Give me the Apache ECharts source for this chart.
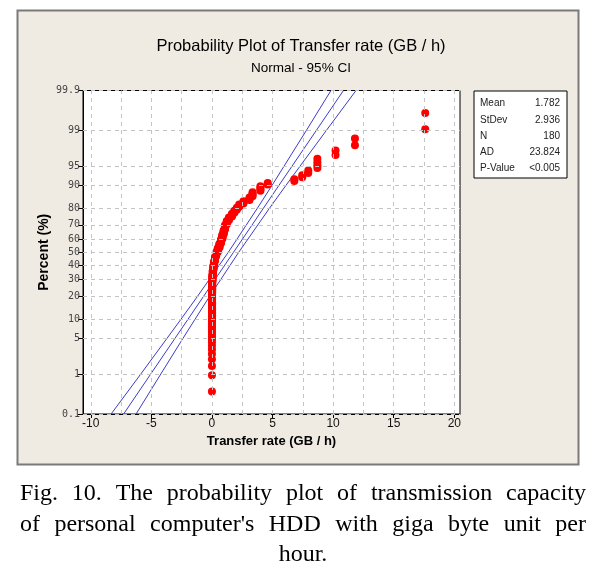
<!DOCTYPE html>
<html><head><meta charset="utf-8">
<script src="https://cdn.jsdelivr.net/npm/echarts@6/dist/echarts.min.js"></script>
<style>html,body{margin:0;padding:0;background:#fff}#c{width:606px;height:571px}</style>
</head><body><div id="c"></div>
<script>
// ---- data ----
const transferRates = [
  0.00,0.00,0.00,0.00,0.00,0.00,0.00,0.00,0.00,0.00,0.00,0.00,0.00,0.00,0.00,0.00,0.00,0.00,0.00,0.00,
  0.01,0.01,0.01,0.01,0.01,0.01,0.01,0.01,0.01,0.01,0.01,0.01,0.01,0.01,0.01,0.01,0.01,0.01,0.01,0.01,
  0.02,0.02,0.02,0.02,0.02,0.02,0.02,0.02,0.02,0.02,0.02,0.02,
  0.04,0.04,0.04,0.04,0.04,0.04,0.04,0.04,
  0.07,0.07,0.07,0.07,0.07,0.07,
  0.12,0.12,0.12,0.12,0.12,0.12,
  0.18,0.18,0.18,0.18,0.18,0.18,
  0.25,0.25,0.25,0.25,0.25,0.25,
  0.34,0.34,0.34,0.34,0.34,0.34,
  0.48,0.48,0.48,0.48,0.48,0.48,
  0.62,0.62,0.62,0.62,0.62,0.62,
  0.75,0.75,0.75,0.75,0.75,0.75,
  0.86,0.86,0.86,0.86,0.86,0.86,
  0.97,0.97,0.97,0.97,0.97,0.97,
  1.08,1.08,1.08,1.08,1.08,1.08,
  1.22,1.22,1.22,1.22,1.22,
  1.40,1.40,1.40,1.40,
  1.65,1.65,1.65,1.65,
  1.85,1.85,1.85,
  2.05,2.05,2.05,
  2.25,2.25,2.25,
  2.60,2.60,2.60,
  3.10,3.10,3.10,
  3.35,3.35,3.35,3.35,
  4.00,4.00,4.00,4.00,
  4.60,4.60,
  6.80,6.80,
  7.45,7.45,
  7.95,7.95,
  8.70,8.70,8.70,8.70,
  10.20,10.20,
  11.80,11.80,
  17.60,17.60
];
const yTickPercents = [0.1,1,5,10,20,30,40,50,60,70,80,90,95,99,99.9];
const xTickValues = [-10,-5,0,5,10,15,20];
const xGridValues = [-10,-7.5,-5,-2.5,0,2.5,5,7.5,10,12.5,15,17.5,20];
const ciPercents = [0.1,1,5,10,20,50,80,90,95,99,99.9];
const fitLine = [-7.29,-5.05,-3.05,-1.98,-0.69,1.78,4.25,5.54,6.61,8.61,10.85];
const ciLower = [-8.32,-5.87,-3.71,-2.56,-1.19,1.35,3.75,4.97,5.95,7.79,9.82];
const ciUpper = [-6.26,-4.22,-2.39,-1.40,-0.19,2.21,4.75,6.12,7.27,9.44,11.89];
const statLabels = ['Mean','StDev','N','AD','P-Value'];
const statValues = ['1.782','2.936','180','23.824','<0.005'];
const titleText = 'Probability Plot of Transfer rate (GB / h)';
const subtitleText = 'Normal - 95% CI';
const xName = 'Transfer rate (GB / h)';
const yName = 'Percent (%)';
const captionLines = [
  'Fig. 10. The probability plot of transmission capacity',
  "of personal computer's HDD with giga byte unit per",
  'hour.'
];

// inverse standard normal (Acklam)
function invNorm(p){
  const a=[-3.969683028665376e+01,2.209460984245205e+02,-2.759285104469687e+02,1.383577518672690e+02,-3.066479806614716e+01,2.506628277459239e+00];
  const b=[-5.447609879822406e+01,1.615858368580409e+02,-1.556989798598866e+02,6.680131188771972e+01,-1.328068155288572e+01];
  const c=[-7.784894002430293e-03,-3.223964580411365e-01,-2.400758277161838e+00,-2.549732539343734e+00,4.374664141464968e+00,2.938163982698783e+00];
  const d=[7.784695709041462e-03,3.224671290700398e-01,2.445134137142996e+00,3.754408661907416e+00];
  const pl=0.02425;let q,r;
  if(p<pl){q=Math.sqrt(-2*Math.log(p));return (((((c[0]*q+c[1])*q+c[2])*q+c[3])*q+c[4])*q+c[5])/((((d[0]*q+d[1])*q+d[2])*q+d[3])*q+1);}
  if(p>1-pl){q=Math.sqrt(-2*Math.log(1-p));return -(((((c[0]*q+c[1])*q+c[2])*q+c[3])*q+c[4])*q+c[5])/((((d[0]*q+d[1])*q+d[2])*q+d[3])*q+1);}
  q=p-0.5;r=q*q;return (((((a[0]*r+a[1])*r+a[2])*r+a[3])*r+a[4])*r+a[5])*q/(((((b[0]*r+b[1])*r+b[2])*r+b[3])*r+b[4])*r+1);
}
const zOf = pct => invNorm(pct/100);
const n = transferRates.length;
const points = transferRates.map((v,i)=>[v, invNorm((i+1-0.3)/(n+0.4))]);
const yTickZ = yTickPercents.map(zOf);
const lineData = arr => arr.map((v,k)=>[v, zOf(ciPercents[k])]);

const chart = echarts.init(document.getElementById('c'), null, {renderer:'canvas'});

// justified caption
const capFont = '24px "Liberation Serif", "Times New Roman", serif';
const ctx = document.createElement('canvas').getContext('2d');
ctx.font = capFont;
const capX0 = 20, capX1 = 586, capY = [494, 525, 555];
const captionEls = [];
captionLines.forEach((line, li)=>{
  if (li === captionLines.length-1){
    captionEls.push({type:'text', x:303, y:capY[li], style:{text:line, font:capFont, fill:'#000', align:'center', verticalAlign:'middle'}});
    return;
  }
  const words = line.split(' ');
  const widths = words.map(w=>ctx.measureText(w).width);
  const total = widths.reduce((s,w)=>s+w,0);
  const gap = (capX1-capX0-total)/(words.length-1);
  let x = capX0;
  words.forEach((w,k)=>{
    captionEls.push({type:'text', x:x, y:capY[li], style:{text:w, font:capFont, fill:'#000', align:'left', verticalAlign:'middle'}});
    x += widths[k] + gap;
  });
});

const statEls = [{type:'rect', shape:{x:474, y:91, width:93, height:87}, style:{fill:'#fff', stroke:'#000', lineWidth:1}}];
statLabels.forEach((s,k)=>{
  const y = 103.5 + k*16.3;
  statEls.push({type:'text', x:480, y:y, style:{text:s, font:'10px "Liberation Sans", Arial, sans-serif', fill:'#222', align:'left', verticalAlign:'middle'}});
  statEls.push({type:'text', x:560, y:y, style:{text:statValues[k], font:'10px "Liberation Sans", Arial, sans-serif', fill:'#222', align:'right', verticalAlign:'middle'}});
});

const blue = '#3c3cc8';
chart.setOption({
  animation:false,
  backgroundColor:'#fff',
  title:{
    text:titleText, subtext:subtitleText, left:296, textAlign:'center', top:33, itemGap:6,
    textStyle:{fontFamily:'"Liberation Sans", Arial, sans-serif', fontSize:16.5, fontWeight:'normal', color:'#000'},
    subtextStyle:{fontFamily:'"Liberation Sans", Arial, sans-serif', fontSize:13.5, color:'#000'}
  },
  graphic:[
    {type:'rect', z:-100, silent:true, shape:{x:17.5, y:10.5, width:561, height:454}, style:{fill:'#EFEBE2', stroke:'#7a7a7a', lineWidth:2}},
    {type:'group', children:statEls},
    {type:'group', children:captionEls}
  ],
  grid:{left:83, right:146, top:90.5, bottom:157, show:true, backgroundColor:'#fff', borderColor:'#000', borderWidth:1},
  xAxis:{
    type:'value', min:-10.64, max:20.47,
    name:xName, nameLocation:'middle', nameGap:21,
    nameTextStyle:{fontFamily:'"Liberation Sans", Arial, sans-serif', fontSize:13, fontWeight:'bold', color:'#000'},
    axisLine:{show:true, onZero:false, lineStyle:{color:'#000', width:1}},
    axisTick:{show:true, length:4, lineStyle:{color:'#000'}, customValues:xTickValues},
    axisLabel:{customValues:xTickValues, margin:4, fontSize:12, color:'#111', fontFamily:'"Liberation Sans", Arial, sans-serif'},
    splitLine:{show:false}
  },
  yAxis:{
    type:'value', min:zOf(0.1), max:zOf(99.9),
    name:yName, nameLocation:'middle', nameGap:32, nameMoveOverlap:false,
    nameTextStyle:{fontFamily:'"Liberation Sans", Arial, sans-serif', fontSize:14, fontWeight:'bold', color:'#000'},
    axisLine:{show:true, onZero:false, lineStyle:{color:'#000', width:1}},
    axisTick:{show:true, length:5, lineStyle:{color:'#000'}, customValues:yTickZ},
    axisLabel:{customValues:yTickZ, margin:3, fontSize:10, color:'#444', fontFamily:'"DejaVu Sans Mono", monospace',
      formatter:function(v){let best=yTickPercents[0],bd=1e9;yTickPercents.forEach((p,k)=>{const d=Math.abs(yTickZ[k]-v);if(d<bd){bd=d;best=p;}});return String(best);}},
    splitLine:{show:false}
  },
  series:[
    {type:'line', data:[], silent:true, z:1,
      markLine:{silent:true, symbol:['none','none'], label:{show:false}, animation:false,
        lineStyle:{type:[4,4], color:'#c4c4c4', width:1},
        data: yTickZ.map(z=>({yAxis:z})).concat(xGridValues.map(v=>({xAxis:v})))}},
    {type:'line', data:lineData(ciLower), showSymbol:false, symbol:'none', z:2, lineStyle:{color:blue, width:1}, clip:true},
    {type:'line', data:lineData(fitLine), showSymbol:false, symbol:'none', z:2, lineStyle:{color:blue, width:1}, clip:true},
    {type:'line', data:lineData(ciUpper), showSymbol:false, symbol:'none', z:2, lineStyle:{color:blue, width:1}, clip:true},
    {type:'scatter', data:points, symbol:'circle', symbolSize:8, z:3, itemStyle:{color:'#ff0000', opacity:1}}
  ]
});
</script></body></html>
